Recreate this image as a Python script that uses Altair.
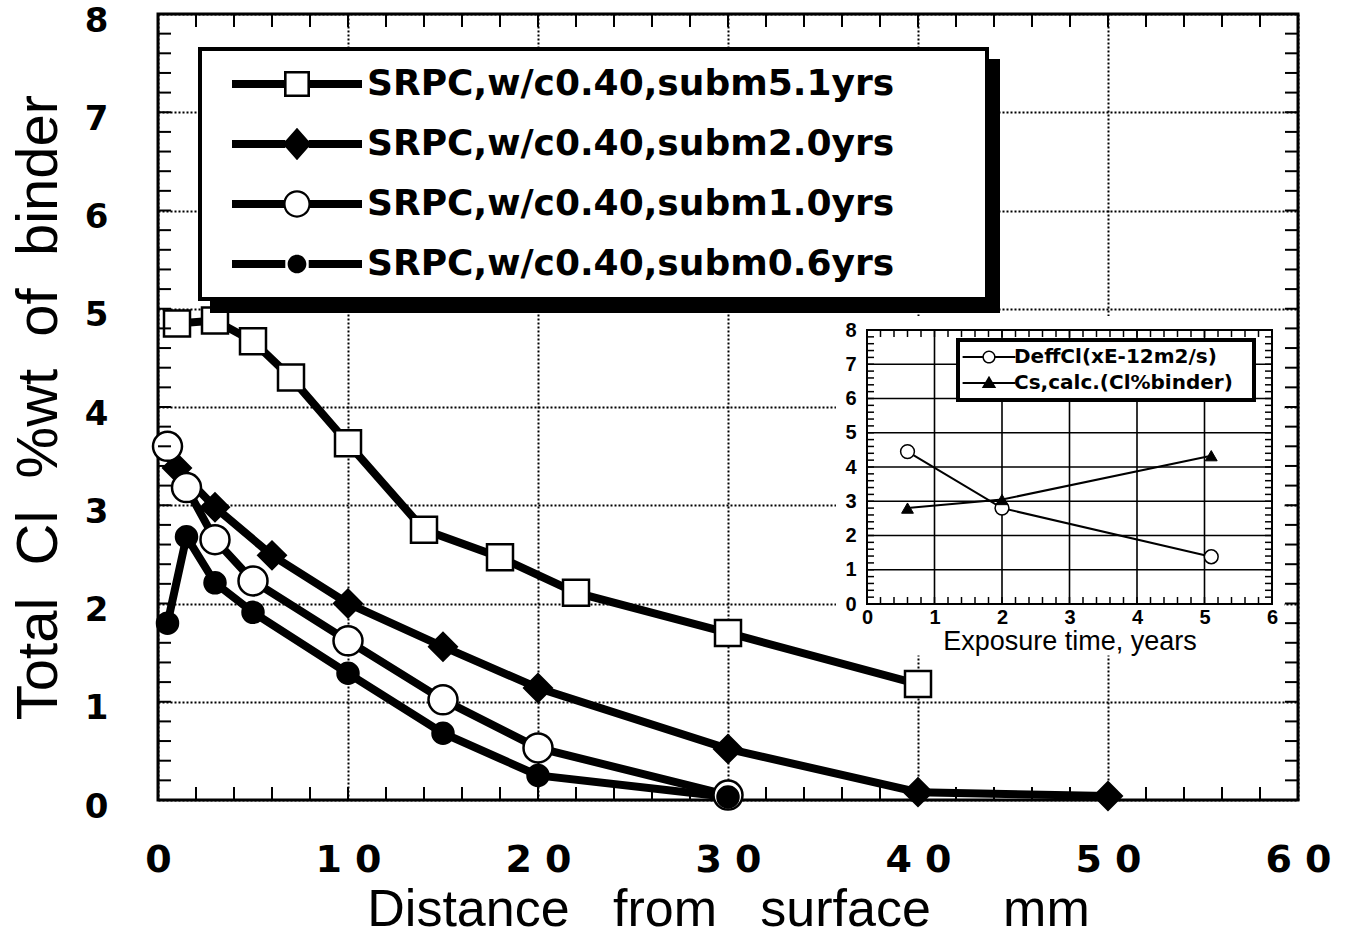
import altair as alt
import pandas as pd

NB = "\u00a0"
ZW = "\u200b"

# ---------------- main chart data ----------------
SERIES = [
    "SRPC,w/c0.40,subm5.1yrs",
    "SRPC,w/c0.40,subm2.0yrs",
    "SRPC,w/c0.40,subm1.0yrs",
    "SRPC,w/c0.40,subm0.6yrs",
]
X_51 = [1, 3, 5, 7, 10, 14, 18, 22, 30, 40]
Y_51 = [4.85, 4.88, 4.67, 4.30, 3.63, 2.75, 2.47, 2.11, 1.70, 1.18]
X_20 = [1, 3, 6, 10, 15, 20, 30, 40, 50]
Y_20 = [3.38, 2.98, 2.49, 2.00, 1.56, 1.14, 0.52, 0.08, 0.04]
X_10 = [0.5, 1.5, 3, 5, 10, 15, 20, 30]
Y_10 = [3.60, 3.18, 2.65, 2.23, 1.62, 1.02, 0.53, 0.05]
X_06 = [0.5, 1.5, 3, 5, 10, 15, 20, 30]
Y_06 = [1.80, 2.68, 2.21, 1.91, 1.29, 0.68, 0.25, 0.03]

X_TICKS = [0, 10, 20, 30, 40, 50, 60]
Y_TICKS = [0, 1, 2, 3, 4, 5, 6, 7, 8]
X_MINOR = list(range(2, 60, 2))
Y_MINOR = [round(i * 0.2, 1) for i in range(1, 40)]

# ---------------- inset data ----------------
INSET_SERIES = ["DeffCl(xE-12m2/s)", "Cs,calc.(Cl%binder)"]
T_DEFF = [0.6, 2.0, 5.1]
V_DEFF = [4.45, 2.80, 1.38]
T_CS = [0.6, 2.0, 5.1]
V_CS = [2.80, 3.05, 4.33]
IX_TICKS = [0, 1, 2, 3, 4, 5, 6]
IY_TICKS = [0, 1, 2, 3, 4, 5, 6, 7, 8]
IX_GRID = [1, 2, 3, 4, 5]
IY_GRID = [1, 2, 3, 4, 5, 6, 7]
IX_MINOR = [round(i * 0.2, 1) for i in range(1, 30)]
IY_MINOR = [round(i * 0.2, 1) for i in range(1, 40)]
INSET_BG = {"bx1": -0.46, "bx2": 6.18, "by1": -1.5, "by2": 8.41}

# ---------------- styles ----------------
W, H = 1140, 786
SHAPES = ["square", "diamond", "circle", "circle"]
FILLS = ["white", "black", "white", "black"]
SIZES = [676, 750, 841, 441]

ARM = "M-5,-0.3H-0.9V0.3H-5Z M0.9,-0.3H5V0.3H0.9Z"
LEG_PATHS = [
    "M-5,-0.3H-1V0.3H-5Z M1,-0.3H5V0.3H1Z M-1,-1H1V1H-1Z M-0.8,-0.8V0.8H0.8V-0.8Z",
    ARM + " M0,-1.25L1.1,0L0,1.25L-1.1,0Z",
    ARM + " M1.05,0A1.05,1.05 0 1,1 -1.05,0A1.05,1.05 0 1,1 1.05,0Z"
          " M0.88,0A0.88,0.88 0 1,0 -0.88,0A0.88,0.88 0 1,0 0.88,0Z",
    ARM + " M0.72,0A0.72,0.72 0 1,1 -0.72,0A0.72,0.72 0 1,1 0.72,0Z",
]
IARM = "M-4.4,-0.17H-1V0.17H-4.4Z M1,-0.17H4.4V0.17H1Z"
ILEG_PATHS = [
    IARM + " M1.1,0A1.1,1.1 0 1,1 -1.1,0A1.1,1.1 0 1,1 1.1,0Z"
           " M0.85,0A0.85,0.85 0 1,0 -0.85,0A0.85,0.85 0 1,0 0.85,0Z",
    "M-4.4,-0.17H4.4V0.17H-4.4Z M0,-1.2L1.2,0.85L-1.2,0.85Z",
]

rows = []
for name, xs_, ys_ in zip(SERIES, [X_51, X_20, X_10, X_06], [Y_51, Y_20, Y_10, Y_06]):
    for xv, yv in zip(xs_, ys_):
        rows.append({"series": name, "x": xv, "y": yv})
main_df = pd.DataFrame(rows)

x_scale = alt.Scale(domain=[0, 60], nice=False, zero=False)
y_scale = alt.Scale(domain=[0, 8], nice=False, zero=False)

x_axis = alt.Axis(
    values=X_TICKS,
    labelExpr=f"datum.value == 0 ? '0' : (datum.value / 10) + '{NB}0'",
    labelFont="DejaVu Sans", labelFontSize=38, labelFontWeight="bold", labelColor="black",
    labelPadding=41, labelFlush=False, labelOverlap=False,
    ticks=False, domain=False,
    grid=True, gridColor="black", gridDash=[2, 2], gridWidth=2, gridOpacity=1,
    title=f"Distance{NB * 3}from{NB * 3}surface{NB * 5}mm",
    titleFont="Liberation Sans", titleFontSize=52, titleFontWeight="normal",
    titleColor="black", titlePadding=5,
)
y_axis = alt.Axis(
    values=Y_TICKS, format="d",
    labelFont="DejaVu Sans", labelFontSize=34, labelFontWeight="bold", labelColor="black",
    labelPadding=50, labelOffset=7, labelFlush=False, labelOverlap=False,
    ticks=False, domain=False,
    grid=True, gridColor="black", gridDash=[2, 2], gridWidth=2, gridOpacity=1,
    title=f"Total{NB}{NB}Cl{NB}{NB}%wt{NB}{NB}of{NB}{NB}binder",
    titleFont="Liberation Sans", titleFontSize=58, titleFontWeight="normal",
    titleColor="black", titlePadding=16,
)

lines = alt.Chart(main_df).mark_line(color="black", strokeWidth=8).encode(
    x=alt.X("x:Q", scale=x_scale, axis=x_axis),
    y=alt.Y("y:Q", scale=y_scale, axis=y_axis),
    detail="series:N",
)

point_layers = []
for name, shp, fil, sz in zip(SERIES, SHAPES, FILLS, SIZES):
    point_layers.append(
        alt.Chart(main_df)
        .transform_filter(alt.FieldEqualPredicate(field="series", equal=name))
        .mark_point(shape=shp, filled=True, fill=fil, stroke="black", strokeWidth=2.5,
                    size=sz, opacity=1)
        .encode(x="x:Q", y="y:Q")
    )

xm_df = pd.DataFrame({"tx": X_MINOR})
ym_df = pd.DataFrame({"ty": Y_MINOR})
tick_b = alt.Chart(xm_df).mark_tick(orient="vertical", size=13, thickness=2, color="black",
                                    opacity=1, yOffset=-6.5).encode(x="tx:Q", y=alt.datum(0))
tick_t = alt.Chart(xm_df).mark_tick(orient="vertical", size=13, thickness=2, color="black",
                                    opacity=1, yOffset=6.5).encode(x="tx:Q", y=alt.datum(8))
tick_l = alt.Chart(ym_df).mark_tick(orient="horizontal", size=13, thickness=2, color="black",
                                    opacity=1, xOffset=6.5).encode(y="ty:Q", x=alt.datum(0))
tick_r = alt.Chart(ym_df).mark_tick(orient="horizontal", size=13, thickness=2, color="black",
                                    opacity=1, xOffset=-6.5).encode(y="ty:Q", x=alt.datum(60))

common_leg = dict(
    orient="none", title=None, direction="vertical", padding=17, rowPadding=24,
    symbolSize=676, symbolOffset=62, labelOffset=52,
    labelFont="DejaVu Sans", labelFontSize=36, labelFontWeight="bold",
    labelLimit=1000,
)
legend_main = alt.Legend(legendX=42, legendY=35, symbolStrokeWidth=0, symbolFillColor="black",
                         symbolOpacity=1, labelColor="black", fillColor="white",
                         strokeColor="black", zindex=2,
                         labelExpr="datum.label + '" + NB * 6 + ZW + "'", **common_leg)
# drop shadow behind the legend box: same size, blank labels
legend_shadow = alt.Legend(legendX=54, legendY=47, symbolStrokeWidth=0, symbolOpacity=0,
                           labelColor="black", fillColor="black", strokeColor="black",
                           zindex=1, labelExpr="'" + ZW + NB * 48 + ZW + "'", **common_leg)

leg_df = pd.DataFrame({"legend_series": SERIES, "shadow_series": SERIES})
legend_layer = alt.Chart(leg_df).mark_point(filled=True, color="black", opacity=0).encode(
    shape=alt.Shape("legend_series:N", scale=alt.Scale(domain=SERIES, range=LEG_PATHS),
                    legend=legend_main),
    strokeDash=alt.StrokeDash("shadow_series:N",
                              scale=alt.Scale(domain=SERIES, range=[[1, 0]] * 4),
                              legend=legend_shadow),
)

main = alt.layer(lines, *point_layers, tick_b, tick_t, tick_l, tick_r, legend_layer)

# ---------------- inset ----------------
ix_scale = alt.Scale(domain=[0, 6], range=[709, 1114], nice=False, zero=False)
iy_scale = alt.Scale(domain=[0, 8], range=[590, 316], nice=False, zero=False)
ix_axis = alt.Axis(
    orient="bottom", offset=-196, values=IX_TICKS, format="d",
    grid=False, ticks=False, domain=False,
    labelFont="Liberation Sans", labelFontSize=20, labelFontWeight="bold", labelColor="black",
    labelPadding=3, labelFlush=False,
    title="Exposure time, years", titleFont="Liberation Sans", titleFontSize=27,
    titleFontWeight="normal", titleColor="black", titlePadding=1, zindex=1,
)
iy_axis = alt.Axis(
    orient="left", offset=-709, values=IY_TICKS, format="d",
    grid=False, ticks=False, domain=False,
    labelFont="Liberation Sans", labelFontSize=20, labelFontWeight="bold", labelColor="black",
    labelPadding=11, labelFlush=False, title=None, zindex=1,
)

ibg = alt.Chart(pd.DataFrame([INSET_BG])).mark_rect(fill="white").encode(
    x=alt.X("bx1:Q", scale=ix_scale, axis=ix_axis), x2="bx2:Q",
    y=alt.Y("by1:Q", scale=iy_scale, axis=iy_axis), y2="by2:Q",
)
igv = alt.Chart(pd.DataFrame({"gx": IX_GRID})).mark_rule(color="black", strokeWidth=1.6).encode(
    x="gx:Q", y=alt.datum(0), y2=alt.datum(8))
igh = alt.Chart(pd.DataFrame({"gy": IY_GRID})).mark_rule(color="black", strokeWidth=1.6).encode(
    y="gy:Q", x=alt.datum(0), x2=alt.datum(6))
iframe = alt.Chart(pd.DataFrame({"f": [0]})).mark_rect(filled=False, color="black",
                                                      strokeWidth=2).encode(
    x=alt.datum(0), x2=alt.datum(6), y=alt.datum(0), y2=alt.datum(8))

ixm = pd.DataFrame({"itx": IX_MINOR})
iym = pd.DataFrame({"ity": IY_MINOR})
itb = alt.Chart(ixm).mark_tick(orient="vertical", size=7, thickness=1.5, color="black",
                               opacity=1, yOffset=-3.5).encode(x="itx:Q", y=alt.datum(0))
itt = alt.Chart(ixm).mark_tick(orient="vertical", size=7, thickness=1.5, color="black",
                               opacity=1, yOffset=3.5).encode(x="itx:Q", y=alt.datum(8))
itl = alt.Chart(iym).mark_tick(orient="horizontal", size=7, thickness=1.5, color="black",
                               opacity=1, xOffset=3.5).encode(y="ity:Q", x=alt.datum(0))
itr = alt.Chart(iym).mark_tick(orient="horizontal", size=7, thickness=1.5, color="black",
                               opacity=1, xOffset=-3.5).encode(y="ity:Q", x=alt.datum(6))

irows = []
for name, ts, vs in zip(INSET_SERIES, [T_DEFF, T_CS], [V_DEFF, V_CS]):
    for tv, vv in zip(ts, vs):
        irows.append({"iseries": name, "t": tv, "v": vv})
idf = pd.DataFrame(irows)

ilines = alt.Chart(idf).mark_line(color="black", strokeWidth=2).encode(
    x="t:Q", y="v:Q", detail="iseries:N")
ipts_deff = (alt.Chart(idf)
             .transform_filter(alt.FieldEqualPredicate(field="iseries", equal=INSET_SERIES[0]))
             .mark_point(shape="circle", filled=True, fill="white", stroke="black",
                         strokeWidth=1.5, size=190, opacity=1)
             .encode(x="t:Q", y="v:Q"))
ipts_cs = (alt.Chart(idf)
           .transform_filter(alt.FieldEqualPredicate(field="iseries", equal=INSET_SERIES[1]))
           .mark_point(shape="triangle-up", filled=True, fill="black", stroke="black",
                       strokeWidth=1, size=140, opacity=1)
           .encode(x="t:Q", y="v:Q"))

ilegend = alt.Legend(
    orient="none", legendX=800, legendY=326, title=None, direction="vertical",
    padding=7, rowPadding=6, symbolSize=144, symbolOffset=14, labelOffset=15,
    symbolStrokeWidth=0, symbolFillColor="black", symbolOpacity=1,
    labelFont="DejaVu Sans", labelFontSize=20, labelFontWeight="bold", labelColor="black",
    labelLimit=1000, labelExpr="datum.label + '" + NB * 2 + ZW + "'",
    fillColor="white", strokeColor="black", zindex=1,
)
ileg_layer = alt.Chart(pd.DataFrame({"ileg": INSET_SERIES})).mark_point(
    filled=True, color="black", opacity=0).encode(
    shape=alt.Shape("ileg:N", scale=alt.Scale(domain=INSET_SERIES, range=ILEG_PATHS),
                    legend=ilegend))

inset = alt.layer(ibg, igv, igh, itb, itt, itl, itr, iframe, ilines, ipts_deff, ipts_cs,
                  ileg_layer)

chart = (
    alt.layer(main, inset)
    .resolve_scale(x="independent", y="independent", shape="independent")
    .properties(
        width=W, height=H,
        padding={"left": 158, "top": 14, "right": 48, "bottom": 135},
        autosize=alt.AutoSizeParams(type="none"),
        background="white",
    )
    .configure_view(stroke="black", strokeWidth=3)
    .configure_legend(strokeWidth=4)
)

chart.save("out.html", embed_options={"renderer": "svg", "actions": False})
